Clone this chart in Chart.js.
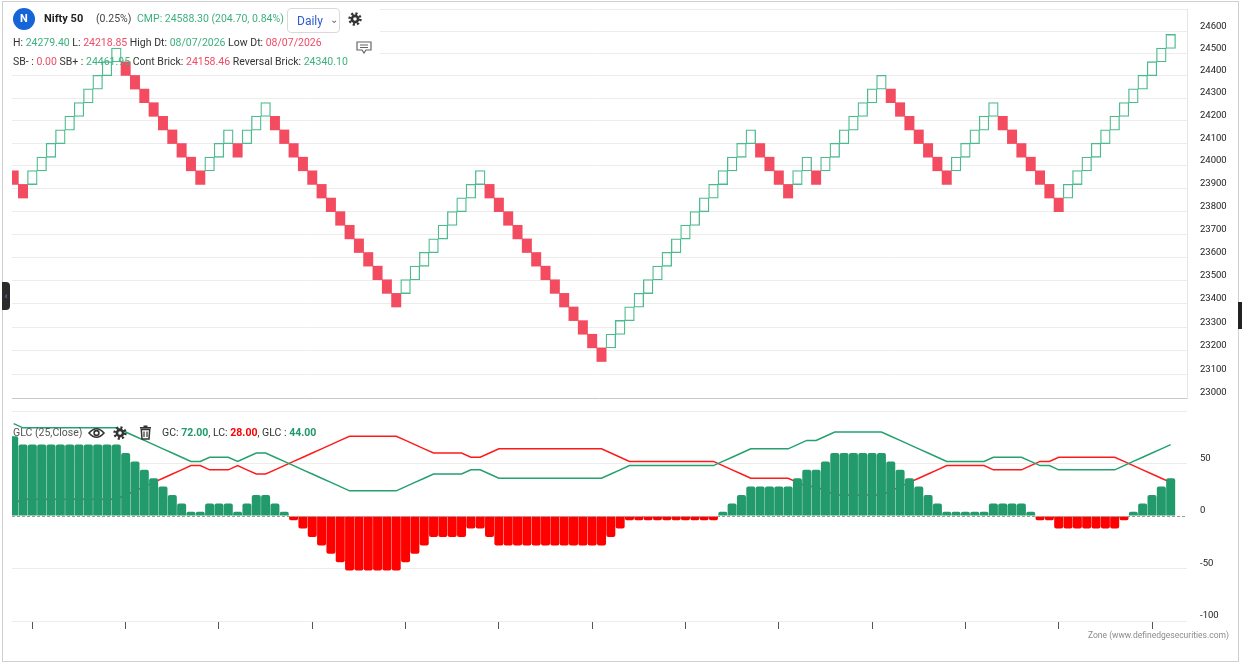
<!DOCTYPE html>
<html>
<head>
<meta charset="utf-8">
<script src="https://cdn.jsdelivr.net/npm/chart.js@4.4.1/dist/chart.umd.min.js"></script>
<style>
  html, body { margin: 0; padding: 0; background: #fff; }
  body { width: 1242px; height: 663px; position: relative; overflow: hidden; font-family: Roboto, "Segoe UI", Arial, sans-serif; }
  #chart { position: absolute; left: 0; top: 0; }
  .frame { position: absolute; left: 2px; top: 1px; width: 1237px; height: 661px; border: 1px solid #cfcfcf; box-sizing: border-box; pointer-events: none; }
  .t { position: absolute; white-space: nowrap; font-size: 10.5px; line-height: 12px; color: #333; }
  .g { color: #3db07f; }
  .r { color: #f04a64; }
  .lg { color: #1f9a6a; font-weight: bold; }
  .lr { color: #ff0000; font-weight: bold; }
  .logo { position: absolute; left: 13px; top: 8px; width: 22px; height: 22px; border-radius: 50%; background: #1565d8; color: #fff; font: bold 11px Roboto, Arial, sans-serif; line-height: 22px; text-align: center; }
  .daily { position: absolute; left: 287px; top: 8px; width: 53px; height: 25px; border: 1px solid #d9d9d9; border-radius: 4px; box-sizing: border-box; }
  .daily span { position: absolute; left: 9px; top: 5px; font-size: 12px; line-height: 14px; color: #2d5bd0; }
  .daily i { position: absolute; left: 42px; top: 5px; font-style: normal; font-size: 10px; color: #666; }
  .ico { position: absolute; }
  .tab-l { position: absolute; left: 2px; top: 282px; width: 8px; height: 28px; background: #2b2b2b; border-radius: 0 4px 4px 0; color: #6d8cff; font-size: 9px; line-height: 28px; text-align: center; }
  .tab-r { position: absolute; left: 1238px; top: 302px; width: 4px; height: 27px; background: #222; }
  .zone { position: absolute; left: 1088px; top: 630px; font-size: 8.5px; line-height: 11px; color: #8c8c8c; white-space: nowrap; }
</style>
</head>
<body>
<canvas id="chart" width="1242" height="663"></canvas>
<div class="frame"></div>

<div class="logo">N</div>
<div class="t" style="left:44px;top:13px;font-size:11px;font-weight:bold;color:#222">Nifty 50</div>
<div class="t" style="left:96px;top:13px;color:#444">(0.25%)</div>
<div class="t g" style="left:137px;top:13px">CMP: 24588.30 (204.70, 0.84%)</div>
<div class="daily"><span>Daily</span><i>&#8964;</i></div>
<svg class="ico" style="left:348px;top:12px" width="14" height="14" viewBox="0 0 14 14">
  <circle cx="7" cy="7" r="5.4" fill="none" stroke="#333" stroke-width="2.6" stroke-dasharray="2.1 2.1"/>
  <circle cx="7" cy="7" r="4.4" fill="#333"/><circle cx="7" cy="7" r="1.8" fill="#fff"/>
</svg>

<div class="t" style="left:13px;top:37px">H: <span class="g">24279.40</span> L: <span class="r">24218.85</span> High Dt: <span class="g">08/07/2026</span> Low Dt: <span class="r">08/07/2026</span></div>
<svg class="ico" style="left:356px;top:41px" width="16" height="13" viewBox="0 0 16 13">
  <path d="M1 1h14v8h-5l-2 3-2-3H1z" fill="#fff" stroke="#666" stroke-width="1.2"/>
  <path d="M4 4h8M4 6.5h8" stroke="#666" stroke-width="1"/>
</svg>
<div class="t" style="left:13px;top:56px">SB- : <span class="r">0.00</span> SB+ : <span class="g">24461.95</span> Cont Brick: <span class="r">24158.46</span> Reversal Brick: <span class="g">24340.10</span></div>

<div class="t" style="left:13px;top:427px;color:#555">GLC (25,Close)</div>
<svg class="ico" style="left:88px;top:427px" width="17" height="12" viewBox="0 0 17 12">
  <path d="M1 6 Q8.5 -2.5 16 6 Q8.5 14.5 1 6Z" fill="none" stroke="#333" stroke-width="1.6"/>
  <circle cx="8.5" cy="6" r="2.4" fill="none" stroke="#333" stroke-width="1.6"/>
</svg>
<svg class="ico" style="left:113px;top:426px" width="14" height="14" viewBox="0 0 14 14">
  <circle cx="7" cy="7" r="5.4" fill="none" stroke="#333" stroke-width="2.6" stroke-dasharray="2.1 2.1"/>
  <circle cx="7" cy="7" r="4.4" fill="#333"/><circle cx="7" cy="7" r="1.8" fill="#fff"/>
</svg>
<svg class="ico" style="left:139px;top:425px" width="13" height="15" viewBox="0 0 13 15">
  <rect x="1" y="2" width="11" height="1.6" fill="#333"/><rect x="4.5" y="0.5" width="4" height="1.6" fill="#333"/>
  <path d="M2.3 4.5h8.4l-0.7 9.5h-7z" fill="none" stroke="#333" stroke-width="1.5"/>
  <path d="M5 6.5v5.5M8 6.5v5.5" stroke="#333" stroke-width="1.2"/>
</svg>
<div class="t" style="left:162px;top:427px">GC: <span class="lg">72.00</span>, LC: <span class="lr">28.00</span>, GLC : <span class="lg">44.00</span></div>

<div class="tab-l">&#8249;</div>
<div class="tab-r"></div>
<div class="zone">Zone (www.definedgesecurities.com)</div>

<script>
// Renko bricks, 0.25% box size (from the header)
const brickPct = 0.25

// lower edge of every brick, left to right
const brickLow = [
  23918.38, 23858.73,
  23918.38, 23978.17, 24038.12, 24098.21, 24158.46, 24218.86, 24279.40, 24340.10, 24400.95, 24461.95,
  24400.95, 24340.10, 24279.40, 24218.86, 24158.46, 24098.21, 24038.12, 23978.17, 23918.38,
  23978.17, 24038.12, 24098.21,
  24038.12,
  24098.21, 24158.46, 24218.86,
  24158.46, 24098.21, 24038.12, 23978.17, 23918.38, 23858.73, 23799.23, 23739.88, 23680.68, 23621.63,
  23562.72, 23503.96, 23445.35, 23386.88,
  23445.35, 23503.96, 23562.72, 23621.63, 23680.68, 23739.88, 23799.23, 23858.73, 23918.38,
  23858.73, 23799.23, 23739.88, 23680.68, 23621.63, 23562.72, 23503.96, 23445.35, 23386.88, 23328.56,
  23270.38, 23212.35, 23154.46,
  23212.35, 23270.38, 23328.56, 23386.88, 23445.35, 23503.96, 23562.72, 23621.63, 23680.68, 23739.88,
  23799.23, 23858.73, 23918.38, 23978.17, 24038.12, 24098.21,
  24038.12, 23978.17, 23918.38, 23858.73,
  23918.38, 23978.17,
  23918.38,
  23978.17, 24038.12, 24098.21, 24158.46, 24218.86, 24279.40, 24340.10,
  24279.40, 24218.86, 24158.46, 24098.21, 24038.12, 23978.17, 23918.38,
  23978.17, 24038.12, 24098.21, 24158.46, 24218.86,
  24158.46, 24098.21, 24038.12, 23978.17, 23918.38, 23858.73, 23799.23,
  23858.73, 23918.38, 23978.17, 24038.12, 24098.21, 24158.46, 24218.86, 24279.40, 24340.10, 24400.95,
  24461.95, 24523.11
]

// R = falling brick, G = rising brick
const brickSide = ("RR GGGGGGGGGG RRRRRRRRR GGG R GGG RRRRRRRRRRRRRR GGGGGGGGG RRRRRRRRRRRRR " +
  "GGGGGGGGGGGGGGGG RRRR GG R GGGGGGG RRRRRRR GGGGG RRRRRRR GGGGGGGGGGGG").replace(/ /g, "").split("")

// GLC (25, Close) panel
const gcLine = [
  88, 84, 84, 84, 84, 84, 84, 84, 84, 84, 84, 84, 80, 76, 72, 68, 64, 60, 56, 52,
  52, 56, 56, 56, 52, 56, 60, 60, 56, 52, 48, 44, 40, 36, 32, 28, 24, 24, 24, 24,
  24, 24, 28, 32, 36, 40, 40, 40, 40, 44, 44, 40, 36, 36, 36, 36, 36, 36, 36, 36,
  36, 36, 36, 36, 40, 44, 48, 48, 48, 48, 48, 48, 48, 48, 48, 48, 52, 56, 60, 64,
  64, 64, 64, 64, 68, 72, 72, 76, 80, 80, 80, 80, 80, 80, 76, 72, 68, 64, 60, 56,
  52, 52, 52, 52, 52, 56, 56, 56, 56, 52, 48, 48, 44, 44, 44, 44, 44, 44, 44, 48,
  52, 56, 60, 64, 68
]
const lcLine = [
  12, 16, 16, 16, 16, 16, 16, 16, 16, 16, 16, 16, 20, 24, 28, 32, 36, 40, 44, 48,
  48, 44, 44, 44, 48, 44, 40, 40, 44, 48, 52, 56, 60, 64, 68, 72, 76, 76, 76, 76,
  76, 76, 72, 68, 64, 60, 60, 60, 60, 56, 56, 60, 64, 64, 64, 64, 64, 64, 64, 64,
  64, 64, 64, 64, 60, 56, 52, 52, 52, 52, 52, 52, 52, 52, 52, 52, 48, 44, 40, 36,
  36, 36, 36, 36, 32, 28, 28, 24, 20, 20, 20, 20, 20, 20, 24, 28, 32, 36, 40, 44,
  48, 48, 48, 48, 48, 44, 44, 44, 44, 48, 52, 52, 56, 56, 56, 56, 56, 56, 56, 52,
  48, 44, 40, 36, 32
]
const glcBars = [
  76, 68, 68, 68, 68, 68, 68, 68, 68, 68, 68, 68, 60, 52, 44, 36, 28, 20, 12, 4,
  4, 12, 12, 12, 4, 12, 20, 20, 12, 4, -4, -12, -20, -28, -36, -44, -52, -52, -52, -52,
  -52, -52, -44, -36, -28, -20, -20, -20, -20, -12, -12, -20, -28, -28, -28, -28, -28, -28, -28, -28,
  -28, -28, -28, -28, -20, -12, -4, -4, -4, -4, -4, -4, -4, -4, -4, -4, 4, 12, 20, 28,
  28, 28, 28, 28, 36, 44, 44, 52, 60, 60, 60, 60, 60, 60, 52, 44, 36, 28, 20, 12,
  4, 4, 4, 4, 4, 12, 12, 12, 12, 4, -4, -4, -12, -12, -12, -12, -12, -12, -12, -4,
  4, 12, 20, 28, 36
]

const priceTicks = [23000, 23100, 23200, 23300, 23400, 23500, 23600, 23700, 23800, 23900,
  24000, 24100, 24200, 24300, 24400, 24500, 24600, 24700]
const glcTicks = [-100, -50, 0, 50, 100]
const xTicks = [2, 12, 22, 32, 42, 52, 62, 72, 82, 92, 102, 112, 122]

const brickGreen = "#4cbb8e"
const brickRed = "#f34b5f"
const glcGreen = "#229a6b"
const glcRed = "#ff0000"

const labels = brickLow.map((_, i) => i)
const bricks = brickLow.map(v => [v, v * (1 + brickPct / 100)])

// white block behind the header text: hides grid lines, bricks still show
const headerMask = {
  id: "headerMask",
  beforeDatasetsDraw(chart) {
    const ctx = chart.ctx
    ctx.save()
    ctx.fillStyle = "#fff"
    ctx.fillRect(0, 0, 380, 70)
    ctx.restore()
  }
}

// dashed zero line of the GLC pane
const zeroLine = {
  id: "zeroLine",
  afterDatasetsDraw(chart) {
    const { ctx, chartArea } = chart
    const y = Math.round(chart.scales.y2.getPixelForValue(0)) + 0.5
    ctx.save()
    ctx.strokeStyle = "#9a9a9a"
    ctx.lineWidth = 1
    ctx.setLineDash([3, 2])
    ctx.beginPath()
    ctx.moveTo(chartArea.left, y)
    ctx.lineTo(chartArea.right, y)
    ctx.stroke()
    ctx.restore()
  }
}

const tickFont = { family: "Roboto, Arial, sans-serif", size: 9.5 }

// keep the panes flush: no extra room for half labels
const fitRightAxis = s => {
  s.width = 55
  s.paddingTop = 0
  s.paddingBottom = 0
}

new Chart(document.getElementById("chart"), {
  type: "bar",
  data: {
    labels,
    datasets: [
      {
        type: "bar",
        label: "GLC",
        yAxisID: "y2",
        data: glcBars,
        order: 0,
        grouped: false,
        barPercentage: 0.965,
        categoryPercentage: 1,
        backgroundColor: glcBars.map(v => v >= 0 ? glcGreen : glcRed),
        borderRadius: 2,
        borderSkipped: "start"
      },
      {
        type: "line",
        label: "GC",
        yAxisID: "y2",
        data: gcLine,
        order: 1,
        borderColor: "#25a06f",
        borderWidth: 1.5,
        pointRadius: 0,
        tension: 0
      },
      {
        type: "line",
        label: "LC",
        yAxisID: "y2",
        data: lcLine,
        order: 1,
        borderColor: "#ff1a1a",
        borderWidth: 1.5,
        pointRadius: 0,
        tension: 0
      },
      {
        type: "bar",
        label: "Renko",
        yAxisID: "y",
        data: bricks,
        order: 2,
        grouped: false,
        barPercentage: 1,
        categoryPercentage: 1,
        backgroundColor: brickSide.map(s => s === "R" ? brickRed : "rgba(0,0,0,0)"),
        borderColor: brickSide.map(s => s === "R" ? brickRed : brickGreen),
        // thin border pushed outwards so neighbouring boxes share one outline
        borderWidth: brickSide.map(s => s === "R" ? 0 : 0.3),
        inflateAmount: brickSide.map(s => s === "R" ? 0.33 : 0.5),
        borderSkipped: false
      }
    ]
  },
  options: {
    responsive: false,
    animation: false,
    devicePixelRatio: 1,
    layout: { padding: { left: 12, top: 9, right: 0, bottom: 0 } },
    plugins: { legend: { display: false }, tooltip: { enabled: false } },
    scales: {
      x: {
        type: "linear",
        min: -0.18,
        max: 125.75,
        offset: false,
        grid: { offset: false, drawOnChartArea: false, drawTicks: true, tickLength: 8, tickColor: "#555", tickWidth: 1 },
        border: { display: false },
        ticks: { callback: () => "", autoSkip: false },
        afterBuildTicks: s => { s.ticks = xTicks.map(v => ({ value: v })) },
        afterFit: s => { s.height = 42; s.paddingLeft = 0; s.paddingRight = 0 }
      },
      y: {
        type: "logarithmic",
        position: "right",
        stack: "panes",
        stackWeight: 389,
        min: 23000,
        max: 24700,
        grid: {
          drawTicks: false,
          color: ctx => ctx.tick && ctx.tick.value === 23000 ? "#c8c8c8" : "#ececec"
        },
        border: { display: true, color: "#e6e6e6" },
        ticks: {
          font: tickFont,
          color: "#222",
          padding: 13,
          labelOffset: -5,
          autoSkip: false,
          callback: v => v === 24700 ? "" : String(v)
        },
        afterBuildTicks: s => { s.ticks = priceTicks.map(v => ({ value: v })) },
        afterFit: fitRightAxis
      },
      y2: {
        type: "linear",
        position: "right",
        stack: "panes",
        stackWeight: 223,
        min: -100,
        max: 112.4,
        grid: {
          drawTicks: false,
          color: ctx => ctx.tick && ctx.tick.value === 0 ? "rgba(0,0,0,0)" : "#ececec"
        },
        border: { display: false },
        ticks: {
          font: tickFont,
          color: "#222",
          padding: 13,
          labelOffset: -5,
          autoSkip: false,
          callback: v => v === 100 ? "" : String(v)
        },
        afterBuildTicks: s => { s.ticks = glcTicks.map(v => ({ value: v })) },
        afterFit: fitRightAxis
      }
    }
  },
  plugins: [headerMask, zeroLine]
})
</script>
</body>
</html>
